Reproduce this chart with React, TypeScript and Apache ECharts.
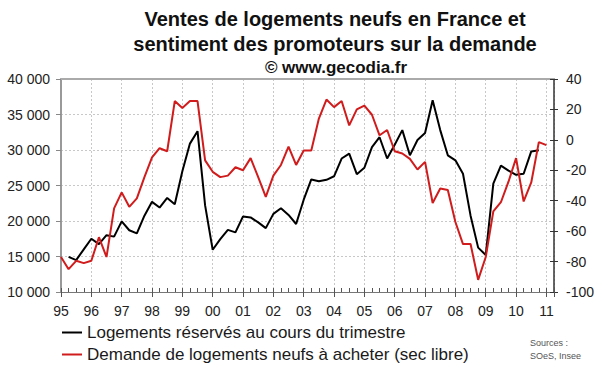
import React, { useEffect, useRef } from "react";
import * as echarts from "echarts";

// Quarterly data, index 0 = 1995 Q1 (tick "95"), index 64 = 2011 Q1
const START_YEAR = 1995;
const X_MAX = 65;

const titleLines = [
  "Ventes de logements neufs en France et",
  "sentiment des promoteurs sur la demande",
];
const copyright = "© www.gecodia.fr";
const sourceLines = ["Sources :", "SOeS, Insee"];

const blackName = "Logements réservés au cours du trimestre";
const redName = "Demande de logements neufs à acheter (sec libre)";

// Logements réservés (left axis)
const blackValues: (number | null)[] = [
  null, 14950, 14500, 16000, 17500, 16750, 18000, 17800,
  19950, 18700, 18250, 20750, 22700, 21900, 23250, 22350,
  27000, 30900, 32650, 22200, 15950, 17450, 18750, 18400,
  20650, 20500, 19800, 19000, 21000, 21800, 20850, 19580,
  23000, 25850, 25600, 25800, 26300, 28800, 29500, 26600,
  27500, 30400, 31800, 28800, 30750, 32800, 29250, 31400,
  32400, 37000, 32800, 29250, 28550, 26650, 20750, 16250,
  15200, 25250, 27800, 27100, 26500, 26650, 29800, 29950,
  null,
];

// Demande de logements neufs (right axis, solde d'opinion)
const redValues: number[] = [
  -77, -85, -79.5, -81, -79.5, -64, -77, -45,
  -34.5, -44, -38.5, -24.5, -11.5, -5.5, -7.5, 25.5,
  21, 25.5, 25.5, -13.5, -21, -24.5, -23.5, -18,
  -20, -12, -24.5, -37.5, -23.5, -16.5, -4.5, -16.5,
  -7, -7, 14, 26.5, 21.5, 25.5, 9.5, 20,
  22.5, 16.5, 3, 6.5, -7.5, -9, -12.5, -19.5,
  -14.5, -41.5, -32, -33, -54, -68.5, -68.5, -92,
  -77, -47, -41, -27.5, -12, -40.5, -28, -1.5,
  -3.5,
];

const leftMin = 10000, leftMax = 40000, leftStep = 5000;
const rightMin = -100, rightMax = 40, rightStep = 20;

const FONT = '"Liberation Sans", Arial, sans-serif';

function fmtThousands(v: number) {
  return String(v).replace(/\B(?=(\d{3})+(?!\d))/g, " ");
}

const GRID = { left: 61, right: 46, top: 79, bottom: 80, containLabel: false };

export default function App() {
  const ref = useRef<HTMLDivElement>(null);
  useEffect(() => {
    if (!ref.current) return;
    const chart = echarts.init(ref.current, undefined, { renderer: "svg" });
    const blackData = blackValues.map((v, i) => [i, v]);
    const redData = redValues.map((v, i) => [i, v]);
    const axisText = { color: "#222", fontSize: 14, fontFamily: FONT };
    const legendText = { fontSize: 17, color: "#1a1a1a", fontFamily: FONT };
    chart.setOption({
      animation: false,
      backgroundColor: "#fff",
      textStyle: { fontFamily: FONT },
      grid: [{ ...GRID }, { ...GRID }],
      graphic: [
        {
          type: "text", x: 335, y: 19,
          style: { text: titleLines[0], font: `bold 20px ${FONT}`, fill: "#111", align: "center", verticalAlign: "middle" },
        },
        {
          type: "text", x: 335, y: 44,
          style: { text: titleLines[1], font: `bold 20px ${FONT}`, fill: "#111", align: "center", verticalAlign: "middle" },
        },
        {
          type: "text", x: 336, y: 67,
          style: { text: copyright, font: `bold 17px ${FONT}`, fill: "#111", align: "center", verticalAlign: "middle" },
        },
        {
          type: "text", x: 530, y: 343,
          style: { text: sourceLines[0], font: `9px ${FONT}`, fill: "#555", align: "left", verticalAlign: "middle" },
        },
        {
          type: "text", x: 530, y: 356,
          style: { text: sourceLines[1], font: `9px ${FONT}`, fill: "#555", align: "left", verticalAlign: "middle" },
        },
      ],
      legend: [
        {
          orient: "horizontal", left: 62, top: 324, padding: 0,
          itemWidth: 20, itemHeight: 2, icon: "rect",
          textStyle: legendText, data: [blackName],
        },
        {
          orient: "horizontal", left: 62, top: 346, padding: 0,
          itemWidth: 20, itemHeight: 2, icon: "rect",
          textStyle: legendText, data: [redName],
        },
      ],
      xAxis: [
        {
          gridIndex: 0, type: "value", position: "bottom", min: 0, max: X_MAX, interval: 4,
          axisLine: { show: true, onZero: false, lineStyle: { color: "#777", width: 1 } },
          axisTick: { show: true, inside: false, length: 5, lineStyle: { color: "#555" } },
          axisLabel: {
            ...axisText, margin: 12,
            formatter: (v: number) => (v % 4 === 0 ? String((START_YEAR + v / 4) % 100).padStart(2, "0") : ""),
          },
          splitLine: { show: true, lineStyle: { color: "#c8c8c8", type: [2, 2], width: 1 } },
        },
        {
          gridIndex: 0, type: "value", position: "top", min: 0, max: X_MAX,
          axisLine: { show: true, onZero: false, lineStyle: { color: "#aaa", width: 2 } },
          axisTick: { show: false },
          axisLabel: { show: false },
          splitLine: { show: false },
        },
        {
          gridIndex: 1, type: "value", position: "bottom", min: 0, max: X_MAX, interval: 1,
          axisLine: { show: false, onZero: false },
          axisTick: { show: true, inside: true, length: 4, lineStyle: { color: "#555" } },
          axisLabel: { show: false },
          splitLine: { show: false },
        },
      ],
      yAxis: [
        {
          gridIndex: 0, type: "value", position: "left", min: leftMin, max: leftMax, interval: leftStep,
          axisLine: { show: true, onZero: false, lineStyle: { color: "#999", width: 2 } },
          axisTick: { show: true, inside: false, length: 5, lineStyle: { color: "#888" } },
          axisLabel: { ...axisText, margin: 11, formatter: (v: number) => fmtThousands(v) },
          splitLine: { show: true, lineStyle: { color: "#c8c8c8", type: [2, 2], width: 1 } },
        },
        {
          gridIndex: 0, type: "value", position: "right", min: rightMin, max: rightMax, interval: rightStep,
          axisLine: { show: true, onZero: false, lineStyle: { color: "#333", width: 1.5 } },
          axisTick: { show: true, inside: false, length: 4, lineStyle: { color: "#333" } },
          axisLabel: { ...axisText, margin: 12 },
          splitLine: { show: false },
        },
        {
          gridIndex: 1, type: "value", position: "right", min: rightMin, max: rightMax, interval: rightStep,
          axisLine: { show: false, onZero: false },
          axisTick: { show: true, inside: true, length: 4, lineStyle: { color: "#333" } },
          axisLabel: { show: false },
          splitLine: { show: false },
        },
      ],
      series: [
        {
          name: blackName, type: "line", xAxisIndex: 0, yAxisIndex: 0,
          data: blackData, showSymbol: false, symbol: "none",
          lineStyle: { color: "#000", width: 2 }, itemStyle: { color: "#000" },
          connectNulls: false, z: 2,
        },
        {
          name: redName, type: "line", xAxisIndex: 0, yAxisIndex: 1,
          data: redData, showSymbol: false, symbol: "none",
          lineStyle: { color: "#d01c1c", width: 2 }, itemStyle: { color: "#d01c1c" },
          z: 3,
        },
      ],
    });
    return () => chart.dispose();
  }, []);
  return <div ref={ref} style={{ width: 600, height: 372, position: "absolute", left: 0, top: 0 }} />;
}
